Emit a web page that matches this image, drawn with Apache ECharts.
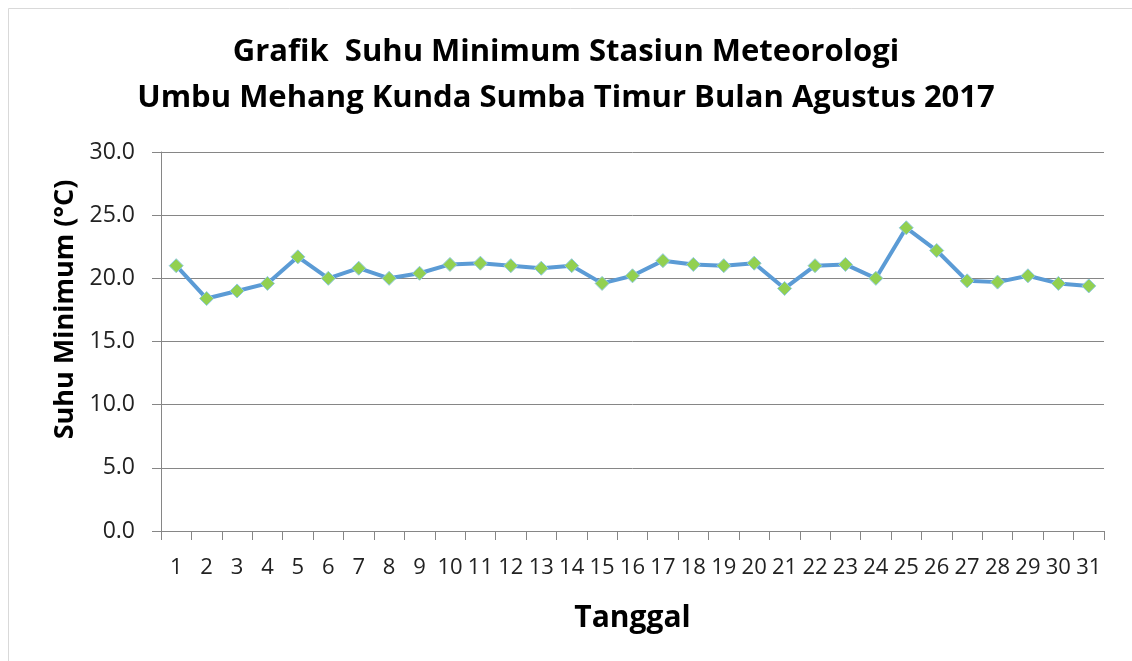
<!DOCTYPE html>
<html>
<head>
<meta charset="utf-8">
<script src="https://cdn.jsdelivr.net/npm/echarts@6/dist/echarts.min.js"></script>
<style>
  html, body { margin: 0; padding: 0; background: #fff; }
  #main { width: 1132px; height: 661px; }
</style>
</head>
<body>
<div id="main"></div>
<script>
// tanggal (hari) bulan Agustus 2017
var tanggal = ['1','2','3','4','5','6','7','8','9','10','11','12','13','14','15','16',
               '17','18','19','20','21','22','23','24','25','26','27','28','29','30','31'];
// suhu minimum harian (°C)
var suhuMin = [21.0, 18.4, 19.0, 19.6, 21.7, 20.0, 20.8, 20.0, 20.4, 21.1, 21.2, 21.0, 20.8, 21.0, 19.6, 20.2,
               21.4, 21.1, 21.0, 21.2, 19.2, 21.0, 21.1, 20.0, 24.0, 22.2, 19.8, 19.7, 20.2, 19.6, 19.4];
var judul = 'Grafik  Suhu Minimum Stasiun Meteorologi\nUmbu Mehang Kunda Sumba Timur Bulan Agustus 2017';

var chart = echarts.init(document.getElementById('main'));
var font = '"Open Sans", sans-serif';

var option = {
    backgroundColor: '#fff',
    animation: false,
    textStyle: { fontFamily: font },
    graphic: [{
        type: 'rect',
        shape: { x: 8.5, y: 8.5, width: 1140, height: 680 },
        style: { fill: 'none', stroke: '#d9d9d9', lineWidth: 1 }
    }],
    title: {
        text: judul,
        left: 'center',
        top: 24,
        textStyle: {
            fontFamily: font,
            fontSize: 31,
            fontWeight: 'bold',
            color: '#000',
            lineHeight: 46
        }
    },
    grid: { left: 161, right: 28, top: 152, bottom: 130 },
    xAxis: {
        type: 'category',
        data: tanggal,
        boundaryGap: true,
        name: 'Tanggal',
        nameLocation: 'middle',
        nameGap: 72,
        nameTextStyle: { fontFamily: font, fontSize: 30, fontWeight: 'bold', color: '#000' },
        axisLine: { lineStyle: { color: '#868686', width: 1 } },
        axisTick: { show: true, alignWithLabel: false, length: 9, lineStyle: { color: '#868686' } },
        axisLabel: { interval: 0, fontSize: 22, color: '#222', margin: 26 }
    },
    yAxis: {
        type: 'value',
        min: 0,
        max: 30,
        interval: 5,
        name: 'Suhu Minimum (°C)',
        nameLocation: 'middle',
        nameGap: 75,
        nameTextStyle: {
            fontFamily: font, fontSize: 27, fontWeight: 'bold', color: '#000',
            padding: [0, 0, 0, 64]   // geser judul sumbu ke atas
        },
        axisLine: { show: true, lineStyle: { color: '#868686', width: 1 } },
        axisTick: { show: true, length: 9, lineStyle: { color: '#868686' } },
        axisLabel: {
            fontSize: 23,
            color: '#222',
            margin: 26,
            formatter: function (v) { return v.toFixed(1); }
        },
        splitLine: { lineStyle: { color: '#868686', width: 1 } }
    },
    series: [{
        type: 'line',
        data: suhuMin,
        symbol: 'diamond',
        symbolSize: 14,
        lineStyle: { color: '#5b9bd5', width: 4 },
        itemStyle: { color: '#92d050', borderColor: '#8ec9e0', borderWidth: 1 }
    }]
};

chart.setOption(option);
</script>
</body>
</html>
